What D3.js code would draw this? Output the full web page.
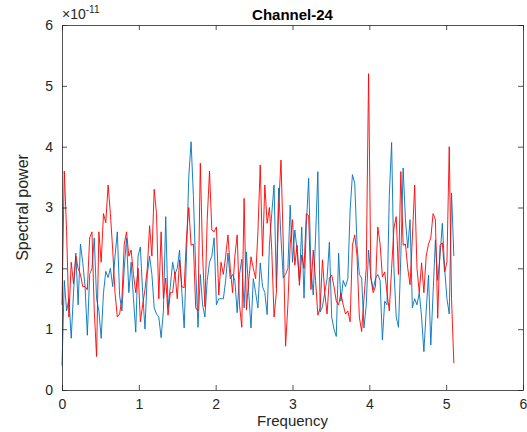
<!DOCTYPE html>
<html>
<head>
<meta charset="utf-8">
<script src="https://cdn.jsdelivr.net/npm/d3@7"></script>
<style>
  html, body { margin: 0; padding: 0; background: #fff; }
  svg text { font-family: "Liberation Sans", Arial, Helvetica, sans-serif; fill: #262626; }
</style>
</head>
<body>
<div id="chart"></div>
<script>
// Frequency axis: one sample every 0.03 from 0 to 5.1
const freqStep = 0.03;

// Spectral power, units of 1e-11 (blue series)
const bluePower = [
  0.4, 1.8, 1.3, 1.5, 0.85, 1.6, 2.25, 1.4, 2.4, 2.1,
  1.7, 0.9, 1.9, 2.0, 2.5, 1.5, 1.3, 0.85, 1.6, 1.95,
  1.85, 2.0, 1.7, 2.2, 2.6, 1.55, 1.3, 2.0, 2.5, 1.6,
  2.1, 1.5, 0.95, 2.2, 2.35, 1.6, 1.0, 1.9, 2.2, 1.9,
  1.35, 1.25, 1.2, 0.86, 1.3, 2.85, 1.35, 1.7, 2.1, 1.9,
  2.0, 2.3, 1.6, 1.02, 2.2, 3.5, 4.08, 3.2, 2.0, 1.03,
  1.9, 1.4, 1.2, 1.8, 2.1, 2.2, 2.5, 1.4, 1.5, 1.5,
  1.5, 1.8, 2.25, 1.83, 1.9, 1.8, 1.27, 1.9, 2.15, 1.35,
  2.27, 1.6, 1.02, 1.83, 1.6, 1.35, 2.09, 1.7, 1.6, 1.24,
  2.4, 2.9, 3.37, 1.68, 3.32, 2.5, 1.84, 1.9, 2.0, 3.04,
  2.1, 2.63, 2.3, 1.8, 2.68, 1.51, 2.7, 3.48, 2.0, 1.56,
  2.5, 3.59, 1.28, 1.37, 1.6, 1.83, 2.43, 1.2, 1.0, 0.88,
  2.25, 1.46, 1.8, 1.7, 1.83, 2.96, 3.54, 3.4, 2.38, 1.9,
  1.84, 1.02, 1.4, 2.3, 1.86, 1.65, 1.83, 1.9, 1.8, 0.82,
  1.46, 1.4, 3.2, 4.07, 2.0, 1.2, 1.03, 2.2, 3.65, 2.8,
  2.33, 2.8, 1.35, 1.5, 1.4, 1.6, 1.2, 0.63, 1.3, 1.89,
  0.74, 1.6, 2.47, 1.8, 2.2, 2.74, 2.0, 1.5, 1.25, 3.24,
  2.2
];

// Spectral power, units of 1e-11 (red series)
const redPower = [
  1.4, 3.6, 2.6, 1.2, 2.1, 1.75, 2.2, 2.0, 1.9, 1.7,
  1.7, 1.65, 2.5, 2.6, 1.3, 0.55, 2.6, 2.1, 2.9, 2.75,
  3.37, 2.9, 2.3, 1.6, 1.2, 1.25, 1.5, 2.4, 2.6, 2.2,
  2.3, 1.9, 1.6, 2.0, 1.12, 1.4, 1.65, 2.0, 2.7, 2.2,
  3.3, 2.9, 1.5, 2.6, 1.5, 1.84, 1.23, 1.6, 1.6, 1.94,
  1.5, 2.14, 1.7, 1.68, 2.5, 3.0, 2.38, 2.4, 1.35, 1.3,
  3.73, 2.2, 1.37, 2.8, 3.6, 2.63, 2.6, 2.68, 1.56, 2.1,
  1.9, 2.2, 2.55, 2.0, 1.6, 2.2, 2.55, 1.4, 1.03, 3.15,
  1.32, 1.8, 2.19, 2.0, 1.83, 2.6, 3.7, 2.2, 3.37, 2.74,
  3.0, 2.3, 1.2, 1.6, 3.0, 3.78, 2.4, 0.72, 1.4, 2.4,
  2.8, 2.05, 2.38, 1.72, 2.22, 2.0, 2.9, 2.86, 1.65, 2.3,
  1.8, 1.23, 1.35, 2.14, 1.6, 1.25, 1.84, 1.89, 1.7, 1.46,
  1.4, 1.59, 1.4, 1.25, 1.3, 1.12, 2.38, 2.55, 2.2, 1.2,
  0.96, 1.5, 2.0, 5.2, 1.84, 1.6, 1.7, 2.68, 2.4, 1.86,
  1.94, 1.6, 1.3, 2.0, 2.66, 2.85, 1.9, 3.59, 2.38, 2.4,
  2.0, 1.73, 2.5, 3.37, 2.0, 1.6, 2.09, 1.6, 2.2, 2.4,
  2.5, 2.9, 2.8, 1.18, 2.38, 2.42, 1.94, 2.1, 4.0, 1.5,
  0.44
];

const xTicks = [0, 1, 2, 3, 4, 5, 6];
const yTicks = [0, 1, 2, 3, 4, 5, 6];

const W = 527, H = 432;
const margin = { top: 25, right: 4, bottom: 42, left: 62 };
const innerW = W - margin.left - margin.right,
      innerH = H - margin.top - margin.bottom;

const svg = d3.select("#chart").append("svg")
    .attr("width", W)
    .attr("height", H);

const g = svg.append("g")
    .attr("transform", `translate(${margin.left},${margin.top})`);

const x = d3.scaleLinear().domain([0, 6]).range([0, innerW]);
const y = d3.scaleLinear().domain([0, 6]).range([innerH, 0]);

// Series lines
const line = d3.line()
    .x((d, i) => x(i * freqStep))
    .y(d => y(d));

g.append("path")
    .datum(bluePower)
    .attr("fill", "none")
    .attr("stroke", "#0072BD")
    .attr("stroke-width", 0.9)
    .attr("d", line);

g.append("path")
    .datum(redPower)
    .attr("fill", "none")
    .attr("stroke", "#FF0000")
    .attr("stroke-width", 0.9)
    .attr("d", line);

// Axes, MATLAB style: ticks inside, box on all sides
const tickLen = 5;
const axisColor = "#262626";
const intFmt = d3.format("d");

const axBottom = g.append("g")
    .attr("transform", `translate(0,${innerH})`)
    .call(d3.axisBottom(x).tickValues(xTicks).tickFormat(intFmt).tickSizeInner(-tickLen).tickSizeOuter(0).tickPadding(9));
const axTop = g.append("g")
    .call(d3.axisTop(x).tickValues(xTicks).tickSizeInner(-tickLen).tickSizeOuter(0).tickFormat(""));
const axLeft = g.append("g")
    .call(d3.axisLeft(y).tickValues(yTicks).tickFormat(intFmt).tickSizeInner(-tickLen).tickSizeOuter(0).tickPadding(9));
const axRight = g.append("g")
    .attr("transform", `translate(${innerW},0)`)
    .call(d3.axisRight(y).tickValues(yTicks).tickSizeInner(-tickLen).tickSizeOuter(0).tickFormat(""));

[axBottom, axTop, axLeft, axRight].forEach(a => {
  a.select(".domain").attr("stroke", axisColor).attr("stroke-width", 0.8);
  a.selectAll(".tick line").attr("stroke", axisColor).attr("stroke-width", 0.8);
  a.selectAll(".tick text")
    .attr("fill", axisColor)
    .style("font-size", "14px");
});

// Exponent label
const expo = g.append("text")
    .attr("x", 0)
    .attr("y", -6)
    .style("font-size", "14px");
expo.append("tspan").text("\u00d710");
expo.append("tspan").attr("dy", -6).style("font-size", "10px").text("-11");

// Title
svg.append("text")
    .attr("x", margin.left + innerW / 2)
    .attr("y", 20)
    .attr("text-anchor", "middle")
    .style("font-size", "15px")
    .style("font-weight", "bold")
    .style("fill", "#000")
    .text("Channel-24");

// Axis labels
svg.append("text")
    .attr("x", margin.left + innerW / 2)
    .attr("y", 426)
    .attr("text-anchor", "middle")
    .style("font-size", "15px")
    .text("Frequency");

svg.append("text")
    .attr("transform", `translate(28,${margin.top + innerH / 2}) rotate(-90)`)
    .attr("text-anchor", "middle")
    .style("font-size", "16px")
    .text("Spectral power");
</script>
</body>
</html>
